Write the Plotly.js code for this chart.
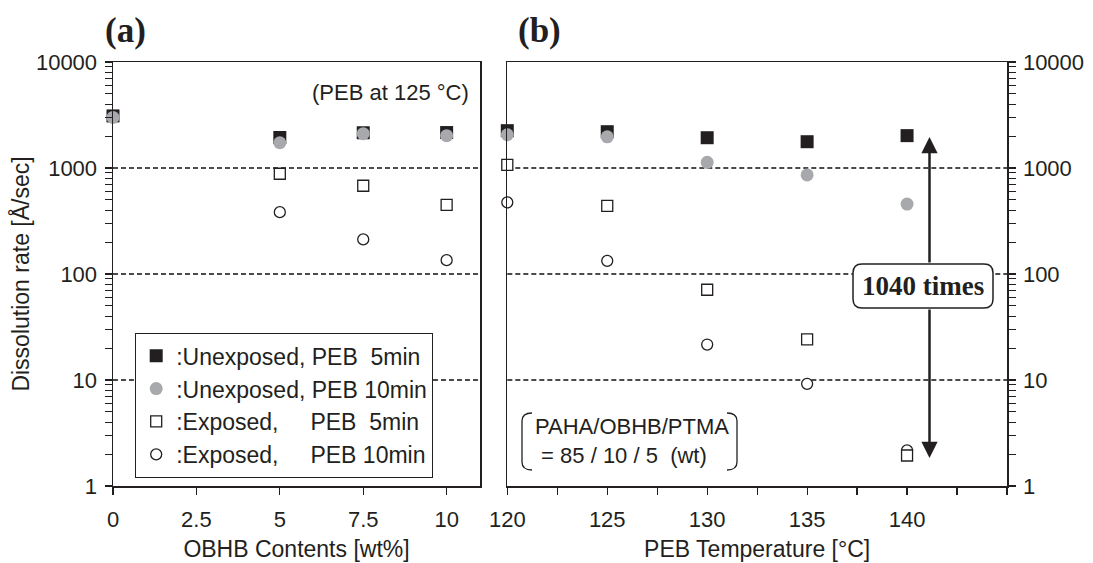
<!DOCTYPE html>
<html>
<head>
<meta charset="utf-8">
<script src="https://cdn.plot.ly/plotly-3.0.1.min.js"></script>
<style>
html,body{margin:0;padding:0;background:#ffffff;}
#chart{width:1093px;height:563px;}
</style>
</head>
<body>
<div id="chart"></div>
<script>
// ---------- data ----------
const obhbContents = [0, 5, 7.5, 10];                 // wt%
const a_unexposed5  = [3100, 1940, 2150, 2160];
const a_unexposed10 = [3000, 1730, 2110, 2020];
const a_exposed5    = [null, 883, 680, 449];
const a_exposed10   = [null, 383, 212, 135];

const pebTemperature = [120, 125, 130, 135, 140];    // °C
const b_unexposed5  = [2250, 2200, 1930, 1770, 2020];
const b_unexposed10 = [2060, 1970, 1130, 860, 457];
const b_exposed5    = [1070, 440, 71, 24.2, 1.94];
const b_exposed10   = [474, 133, 21.6, 9.2, 2.17];

const seriesNames = [
  ':Unexposed, PEB\u00a0\u00a05min',
  ':Unexposed, PEB 10min',
  ':Exposed,\u00a0\u00a0\u00a0\u00a0\u00a0PEB\u00a0\u00a05min',
  ':Exposed,\u00a0\u00a0\u00a0\u00a0\u00a0PEB 10min'
];
const xTicksA = [0, 2.5, 5, 7.5, 10];
const xTicksB = [120, 122.5, 125, 127.5, 130, 132.5, 135, 137.5, 140, 142.5, 145];
const xLabelsB = ['120', '', '125', '', '130', '', '135', '', '140', '', ''];
const yDecades = [1, 10, 100, 1000, 10000];
const yDecadeLabels = ['1', '10', '100', '1000', '10000'];
const yMinorDigits = [2, 3, 4, 5, 6, 7, 8, 9];
const yGridValues = [10, 100, 1000];

// ---------- style ----------
const W = 1093, H = 563;
const INK = '#231f20';
const GREY = '#a7a9ac';
const SANS = 'Liberation Sans, Arial, Helvetica, sans-serif';
const SERIF = 'Liberation Serif, Times New Roman, serif';
const px = v => v / W;
const py = v => 1 - v / H;

// all y tick positions (decades labelled, intermediate digits unlabelled)
const yAllTicks = [], yAllLabels = [];
yDecades.forEach((d, i) => {
  yAllTicks.push(d); yAllLabels.push(yDecadeLabels[i]);
  if (i < yDecades.length - 1) {
    yMinorDigits.forEach(k => { yAllTicks.push(k * d); yAllLabels.push(''); });
  }
});

const styles = [
  {symbol: 'square', size: 13, color: INK, line: {width: 0}},
  {symbol: 'circle', size: 13, color: GREY, line: {width: 0}},
  {symbol: 'square', size: 11, color: '#ffffff', line: {color: INK, width: 1.3}},
  {symbol: 'circle', size: 11, color: '#ffffff', line: {color: INK, width: 1.3}}
];

function mk(x, y, idx, xa, ya, showleg) {
  return {
    type: 'scatter', mode: 'markers', x: x, y: y,
    xaxis: xa, yaxis: ya, name: seriesNames[idx],
    legendgroup: 'g' + idx, legendrank: idx + 1,
    showlegend: showleg, cliponaxis: false,
    marker: styles[idx], hoverinfo: 'x+y'
  };
}

// drawing order: filled squares, grey circles, open circles, open squares
const data = [
  mk(obhbContents, a_unexposed5, 0, 'x', 'y', true),
  mk(obhbContents, a_unexposed10, 1, 'x', 'y', true),
  mk(obhbContents, a_exposed10, 3, 'x', 'y', true),
  mk(obhbContents, a_exposed5, 2, 'x', 'y', true),
  mk(pebTemperature, b_unexposed5, 0, 'x2', 'y2', false),
  mk(pebTemperature, b_unexposed10, 1, 'x2', 'y2', false),
  mk(pebTemperature, b_exposed10, 3, 'x2', 'y2', false),
  mk(pebTemperature, b_exposed5, 2, 'x2', 'y2', false)
];

const tickFont = {family: SANS, size: 22, color: INK};
const titleFont = {family: SANS, size: 23, color: INK};
const yDomain = [py(486), py(62)];

const yCommon = {
  type: 'log', range: [0, 4], domain: yDomain,
  tickmode: 'array', tickvals: yAllTicks, ticktext: yAllLabels,
  showline: true, linecolor: INK, linewidth: 1.5, mirror: true,
  ticks: 'outside', ticklen: 7, tickwidth: 1.1, tickcolor: INK,
  tickfont: tickFont, ticklabelstandoff: 3,
  showgrid: false, zeroline: false, fixedrange: true
};
const xCommon = {
  showline: true, linecolor: INK, linewidth: 1.5, mirror: true,
  ticks: 'outside', ticklen: 7, tickwidth: 1.2, tickcolor: INK,
  tickfont: tickFont, ticklabelstandoff: 6,
  showgrid: false, zeroline: false, fixedrange: true
};

function roundedBox(x0, y0, x1, y1, r) {
  return 'M' + px(x0 + r) + ',' + py(y0) +
    ' L' + px(x1 - r) + ',' + py(y0) +
    ' Q' + px(x1) + ',' + py(y0) + ' ' + px(x1) + ',' + py(y0 + r) +
    ' L' + px(x1) + ',' + py(y1 - r) +
    ' Q' + px(x1) + ',' + py(y1) + ' ' + px(x1 - r) + ',' + py(y1) +
    ' L' + px(x0 + r) + ',' + py(y1) +
    ' Q' + px(x0) + ',' + py(y1) + ' ' + px(x0) + ',' + py(y1 - r) +
    ' L' + px(x0) + ',' + py(y0 + r) +
    ' Q' + px(x0) + ',' + py(y0) + ' ' + px(x0 + r) + ',' + py(y0) + ' Z';
}
function bracket(xv, xc, y0, y1, r) {
  return 'M' + px(xc) + ',' + py(y0) +
    ' Q' + px(xv) + ',' + py(y0) + ' ' + px(xv) + ',' + py(y0 + r) +
    ' L' + px(xv) + ',' + py(y1 - r) +
    ' Q' + px(xv) + ',' + py(y1) + ' ' + px(xc) + ',' + py(y1);
}

// dashed decade grid lines in both panels
const gridShapes = [];
[['x domain', 'y'], ['x2 domain', 'y2']].forEach(([xr, yr]) => {
  yGridValues.forEach(v => gridShapes.push({
    type: 'line', xref: xr, yref: yr, x0: 0, x1: 1, y0: v, y1: v, layer: 'below',
    line: {color: '#111111', width: 1.3, dash: '5px,3px'}
  }));
});

const layout = {
  width: W, height: H,
  margin: {l: 0, r: 0, t: 0, b: 0, pad: 0},
  paper_bgcolor: '#ffffff', plot_bgcolor: '#ffffff',
  font: {family: SANS, color: INK},
  showlegend: true,
  legend: {
    x: px(135), y: py(333), xanchor: 'left', yanchor: 'top',
    xref: 'paper', yref: 'paper',
    bgcolor: '#ffffff', bordercolor: INK, borderwidth: 1.2,
    font: {family: SANS, size: 23, color: INK},
    traceorder: 'normal', itemclick: false, itemdoubleclick: false
  },
  xaxis: Object.assign({}, xCommon, {
    domain: [px(113), px(480)], anchor: 'y', range: [0, 11],
    tickmode: 'array', tickvals: xTicksA, ticktext: xTicksA.map(String),
    title: {text: 'OBHB Contents [wt%]', font: titleFont, standoff: 10}
  }),
  yaxis: Object.assign({}, yCommon, {
    anchor: 'x', side: 'left',
    title: {text: 'Dissolution rate [Å/sec]', font: titleFont, standoff: 0}
  }),
  xaxis2: Object.assign({}, xCommon, {
    domain: [px(507.3), px(1007)], anchor: 'y2', range: [120, 145],
    tickmode: 'array', tickvals: xTicksB, ticktext: xLabelsB,
    title: {text: 'PEB Temperature [°C]', font: titleFont, standoff: 10}
  }),
  yaxis2: Object.assign({}, yCommon, {anchor: 'x2', side: 'right'}),
  shapes: gridShapes.concat([
    {type: 'path', xref: 'paper', yref: 'paper', layer: 'above',
     path: roundedBox(853, 264, 993, 308, 9),
     fillcolor: '#ffffff', line: {color: INK, width: 1.5}},
    {type: 'path', xref: 'paper', yref: 'paper', layer: 'above',
     path: bracket(522, 532, 413, 470, 8), line: {color: INK, width: 1.3}},
    {type: 'path', xref: 'paper', yref: 'paper', layer: 'above',
     path: bracket(737, 727, 413, 470, 8), line: {color: INK, width: 1.3}}
  ]),
  annotations: [
    {xref: 'paper', yref: 'paper', x: px(125), y: py(30), text: '<b>(a)</b>',
     showarrow: false, xanchor: 'center', yanchor: 'middle',
     font: {family: SERIF, size: 35, color: INK}},
    {xref: 'paper', yref: 'paper', x: px(539), y: py(30), text: '<b>(b)</b>',
     showarrow: false, xanchor: 'center', yanchor: 'middle',
     font: {family: SERIF, size: 35, color: INK}},
    {xref: 'paper', yref: 'paper', x: px(471), y: py(92), text: '(PEB at 125 °C)',
     showarrow: false, xanchor: 'right', yanchor: 'middle',
     font: {family: SANS, size: 22, color: INK}},
    {xref: 'paper', yref: 'paper', x: px(533), y: py(441),
     text: 'PAHA/OBHB/PTMA<br>\u00a0= 85 / 10 / 5 \u00a0(wt)', align: 'left',
     showarrow: false, xanchor: 'left', yanchor: 'middle',
     font: {family: SANS, size: 22, color: INK}},
    {xref: 'paper', yref: 'paper', x: px(923), y: py(286), text: '<b>1040 times</b>',
     showarrow: false, xanchor: 'center', yanchor: 'middle',
     font: {family: SERIF, size: 27, color: INK}},
    {xref: 'paper', yref: 'paper', x: px(929.5), y: py(137), text: '',
     showarrow: true, ax: 0, ay: 127, arrowhead: 2, arrowsize: 1.3, arrowwidth: 2.5,
     arrowcolor: INK, standoff: 0, startstandoff: 0},
    {xref: 'paper', yref: 'paper', x: px(929.5), y: py(458), text: '',
     showarrow: true, ax: 0, ay: -150, arrowhead: 2, arrowsize: 1.3, arrowwidth: 2.5,
     arrowcolor: INK, standoff: 0, startstandoff: 0}
  ]
};

Plotly.newPlot('chart', data, layout, {displayModeBar: false, staticPlot: true});
</script>
</body>
</html>
